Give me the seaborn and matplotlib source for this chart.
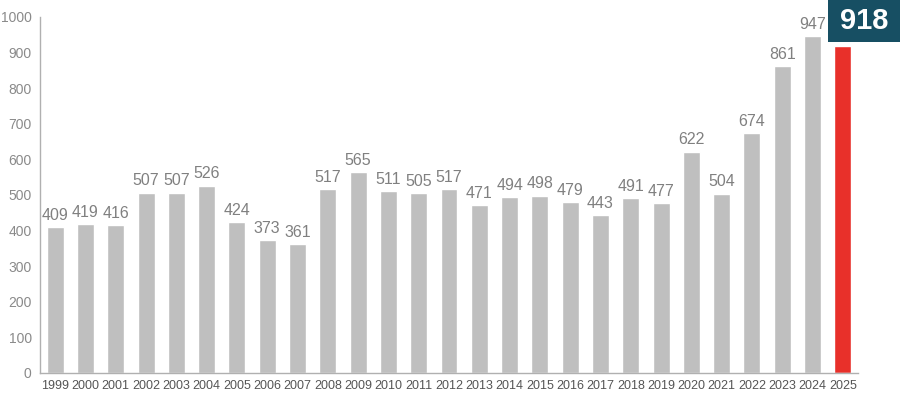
import matplotlib
matplotlib.use("Agg")
import matplotlib.pyplot as plt
from matplotlib.patches import Rectangle
import seaborn as sns
import pandas as pd

years = [str(y) for y in range(1999, 2026)]
values = [409, 419, 416, 507, 507, 526, 424, 373, 361, 517, 565, 511, 505, 517,
          471, 494, 498, 479, 443, 491, 477, 622, 504, 674, 861, 947, 918]
highlight_year = "2025"

sns.set_theme(style="white")
plt.rcParams['font.family'] = ['Liberation Sans', 'DejaVu Sans']

df = pd.DataFrame({"year": years, "value": values})
palette = {y: ("#e8302a" if y == highlight_year else "#bfbfbf") for y in years}

W, H = 900, 394
fig = plt.figure(figsize=(W / 100, H / 100), dpi=100)
ax = fig.add_axes([40/W, 21/H, 818/W, 356/H])
sns.barplot(data=df, x="year", y="value", hue="year", palette=palette,
            legend=False, width=0.56, ax=ax, saturation=1)

ax.set_ylim(0, 1000)
ax.set_xlim(-0.5, len(years) - 0.5)
ax.set_yticks(range(0, 1001, 100))
ax.set_xlabel("")
ax.set_ylabel("")
for s in ["top", "right"]:
    ax.spines[s].set_visible(False)
for s in ["left", "bottom"]:
    ax.spines[s].set_color("#b0b0b0")
    ax.spines[s].set_linewidth(1.0)
ax.tick_params(axis="y", colors="#8a8a8a", labelsize=10, length=0, pad=6)
ax.tick_params(axis="x", colors="#555555", labelsize=9, length=0, pad=5)

for i, (y, v) in enumerate(zip(years, values)):
    if y == highlight_year:
        fig.patches.append(Rectangle((828/W, 1 - 42/H), 72/W, 42/H,
                                     transform=fig.transFigure,
                                     fc="#174f63", ec="none", zorder=5))
        fig.text(864/W, 1 - 21/H, str(v), ha="center", va="center",
                 fontsize=21, fontweight="bold", color="white", zorder=6)
    else:
        ax.text(i, v + 12, str(v), ha="center", va="bottom",
                fontsize=11.5, color="#808080")

fig.savefig("out.png", dpi=100)
